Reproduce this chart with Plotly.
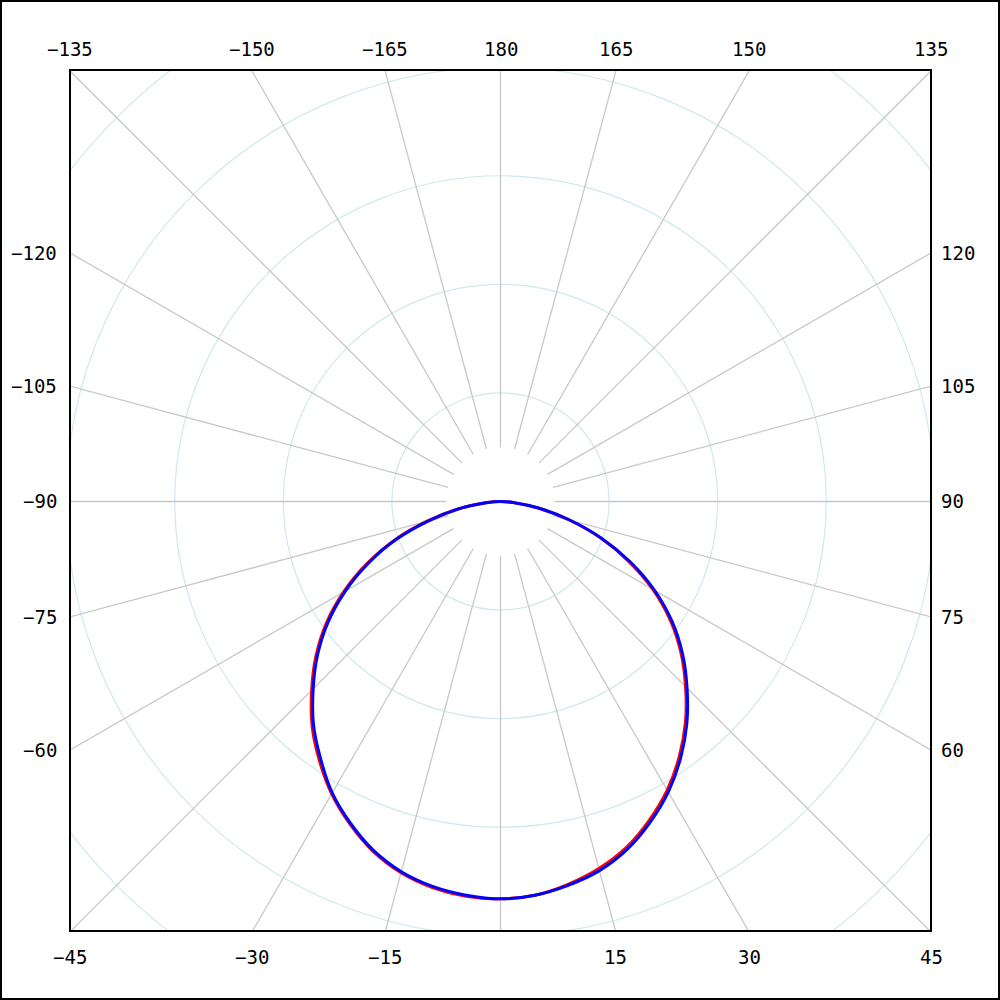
import numpy as np
import plotly.graph_objects as go


# ==========================================
# Data
# ==========================================

angles = [-90, -85, -80, -75, -70, -65, -60, -55, -50, -45, -40, -35, -30, -25, -20, -15, -10, -5,
          0, 5, 10, 15, 20, 25, 30, 35, 40, 45, 50, 55, 60, 65, 70, 75, 80, 85, 90]

# C90-C270 plane (blue)
intensity_blue = [0, 13, 39, 68, 102, 134, 165, 194, 220, 244, 268, 289, 310, 327, 342, 353, 360, 364,
                  366, 364, 359, 352, 341, 326, 309, 289, 267, 243, 219, 193, 164, 132, 99, 66, 37, 13, 0]

# C0-C180 plane (red)
intensity_red = [0, 14, 40, 70, 104, 136, 167, 196, 222, 246, 270, 291, 311, 328, 343, 354, 361, 365,
                 366, 364, 358, 350, 339, 324, 307, 287, 265, 241, 217, 191, 162, 130, 98, 65, 36, 12, 0]

ring_values = [100, 200, 300, 400, 500]
spoke_angles = list(range(-180, 180, 15))

top_labels = [135, 150, 165, 180, -165, -150, -135]
bottom_labels = [-45, -30, -15, 15, 30, 45]
left_labels = [-120, -105, -90, -75, -60]
right_labels = [120, 105, 90, 75, 60]

HALF = 396.5
YSHIFT = 0.9
FONT = dict(family="DejaVu Sans Mono", size=19, color="black")


def to_xy(theta_deg, r):
    t = np.radians(np.asarray(theta_deg, dtype=float))
    r = np.asarray(r, dtype=float)
    return r * np.sin(t), -r * np.cos(t)


def label(a):
    return str(a).replace("-", "\u2212")


# ==========================================
# Figure
# ==========================================

fig = go.Figure()

# rings
for rv in ring_values:
    fig.add_shape(type="circle", xref="x", yref="y", x0=-rv, y0=-rv, x1=rv, y1=rv,
                  line=dict(color="#d0e8ee", width=1.2), layer="below")

# spokes
sx, sy = [], []
for a in spoke_angles:
    x, y = to_xy([a, a], [50, 700])
    sx += list(x) + [None]
    sy += list(y) + [None]
fig.add_trace(go.Scatter(x=sx, y=sy, mode="lines", line=dict(color="#c8c8c8", width=1.3),
                         hoverinfo="skip", showlegend=False))

# curves
rx, ry = to_xy(angles, intensity_red)
fig.add_trace(go.Scatter(x=rx, y=ry, mode="lines", line=dict(color="red", width=3, shape="spline"),
                         name="C0-C180", showlegend=False))
bx, by = to_xy(angles, intensity_blue)
fig.add_trace(go.Scatter(x=bx, y=by, mode="lines", line=dict(color="blue", width=3, shape="spline"),
                         name="C90-C270", showlegend=False))

# angle labels round the box
ann = []
for a in top_labels:
    ann.append(dict(x=round(-HALF * np.tan(np.radians(a)), 3), y=1 + 21 / 861, xref="x", yref="paper",
                    text=label(a), showarrow=False, font=FONT, xanchor="center", yanchor="middle"))
for a in bottom_labels:
    ann.append(dict(x=round(HALF * np.tan(np.radians(a)), 3), y=-26 / 861, xref="x", yref="paper",
                    text=label(a), showarrow=False, font=FONT, xanchor="center", yanchor="middle"))
for a in left_labels:
    ann.append(dict(x=-11 / 861, y=round(HALF / np.tan(np.radians(a)), 3), xref="paper", yref="y",
                    text=label(a), showarrow=False, font=FONT, xanchor="right", yanchor="middle"))
for a in right_labels:
    ann.append(dict(x=1 + 8 / 861, y=round(-HALF / np.tan(np.radians(a)), 3), xref="paper", yref="y",
                    text=label(a), showarrow=False, font=FONT, xanchor="left", yanchor="middle"))

# plot box and outer frame
fig.add_shape(type="rect", xref="paper", yref="paper", x0=0, y0=0, x1=1, y1=1,
              line=dict(color="black", width=2))
fig.add_shape(type="rect", xref="paper", yref="paper",
              x0=-69 / 861, y0=-68 / 861, x1=1 + 68 / 861, y1=1 + 69 / 861,
              line=dict(color="black", width=2))

fig.update_layout(
    width=1000, height=1000,
    margin=dict(l=70, r=69, t=70, b=69),
    paper_bgcolor="white", plot_bgcolor="white",
    annotations=ann,
    xaxis=dict(range=[-HALF, HALF], visible=False, fixedrange=True),
    yaxis=dict(range=[-HALF + YSHIFT, HALF + YSHIFT], visible=False, fixedrange=True),
)

fig.write_html("out.html", config={"displayModeBar": False},
               post_script="document.body.style.margin='0';")
